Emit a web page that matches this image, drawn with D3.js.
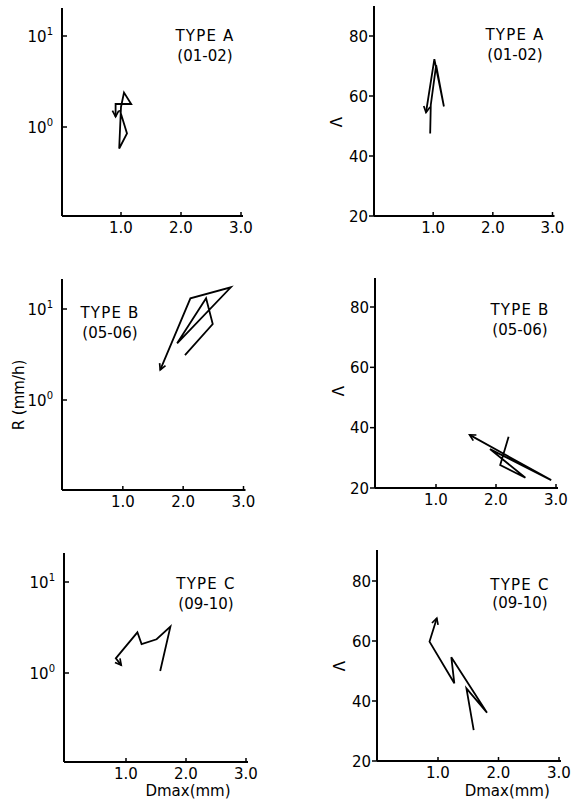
<!DOCTYPE html>
<html><head><meta charset="utf-8">
<script src="https://cdn.jsdelivr.net/npm/d3@7"></script>
<style>
body{margin:0;background:#fff}
text{font-family:"DejaVu Sans",sans-serif;fill:#000}
</style>
</head><body>
<svg id="c" width="579" height="808"></svg>
<script>
// ---- data ----
const dmaxTicks = [1.0, 2.0, 3.0];
const rTicks = [1, 10];
const lambdaTicks = [20, 40, 60, 80];
const typeLabels = ["TYPE A", "TYPE B", "TYPE C"];
const periodLabels = ["(01-02)", "(05-06)", "(09-10)"];
const rAxisTitle = "R (mm/h)";
const lambdaAxisTitle = "Λ";
const dmaxAxisTitle = "Dmax(mm)";

// Type A (01-02)
const typeA_dmaxR   = [0.98, 1.10, 0.97, 1.00, 1.05, 1.17, 0.91, 0.91];
const typeA_R       = [1.54, 0.85, 0.58, 1.66, 2.39, 1.79, 1.79, 1.30];
const typeA_dmaxL   = [0.95, 0.96, 1.05, 1.18, 1.02, 0.88];
const typeA_lambda  = [47.5, 57.0, 70.3, 56.5, 72.3, 54.5];
// Type B (05-06)
const typeB_dmaxR   = [2.03, 2.49, 2.38, 1.90, 2.79, 2.12, 1.62];
const typeB_R       = [3.12, 6.84, 13.1, 4.2, 17.3, 13.1, 2.14];
const typeB_dmaxL   = [2.21, 2.07, 2.49, 1.90, 2.92, 1.56];
const typeB_lambda  = [37.0, 27.6, 23.4, 32.9, 22.6, 37.6];
// Type C (09-10)
const typeC_dmaxR   = [1.57, 1.74, 1.51, 1.26, 1.19, 0.83, 0.92];
const typeC_R       = [1.05, 3.23, 2.35, 2.08, 2.80, 1.45, 1.22];
const typeC_dmaxL   = [1.59, 1.47, 1.81, 1.22, 1.27, 0.86, 0.98];
const typeC_lambda  = [30.3, 44.2, 36.1, 54.6, 45.9, 59.8, 67.6];

const seriesR = [[typeA_dmaxR, typeA_R], [typeB_dmaxR, typeB_R], [typeC_dmaxR, typeC_R]];
const seriesL = [[typeA_dmaxL, typeA_lambda], [typeB_dmaxL, typeB_lambda], [typeC_dmaxL, typeC_lambda]];

// ---- layout (pixels) ----
const panels = [
  {kind:"R", row:0, x0:61,    x3:241,   axisX:62,  axisY:216, top:8,   y1:127, y10:36,  tx:205, ty:41,  py:61},
  {kind:"L", row:0, x0:373.5, x3:552.5, axisX:374, axisY:216, top:6,   v20:216, v80:36, tx:515, ty:40,  py:60, lx:337, ly:122},
  {kind:"R", row:1, x0:62.5,  x3:243.5, axisX:62,  axisY:490, top:279, y1:400, y10:309, tx:110, ty:318, py:338, title:true},
  {kind:"L", row:1, x0:376,   x3:556,   axisX:375, axisY:488, top:278, v20:488, v80:307, tx:520, ty:315, py:335, lx:339, ly:391},
  {kind:"R", row:2, x0:66,    x3:246,   axisX:64,  axisY:762, top:553, y1:673, y10:582, tx:206, ty:589, py:609, xtitle:true},
  {kind:"L", row:2, x0:377.5, x3:559,   axisX:377, axisY:761, top:550, v20:761, v80:581, tx:520, ty:590, py:608, lx:340, ly:666, xtitle:true}
];

const svg = d3.select("#c");
svg.append("defs").append("marker")
  .attr("id","arr").attr("markerUnits","userSpaceOnUse")
  .attr("viewBox","-8 -5 10 10").attr("refX",0).attr("refY",0)
  .attr("markerWidth",10).attr("markerHeight",10).attr("orient","auto")
  .append("path").attr("d","M-6,-3.2L0,0L-6,3.2")
  .attr("fill","none").attr("stroke","#000").attr("stroke-width",1.7);

panels.forEach(p => {
  const g = svg.append("g");
  const x = d3.scaleLinear().domain([0,3]).range([p.x0, p.x3]);
  let y;
  if (p.kind === "R") y = d3.scaleLog().domain([1,10]).range([p.y1, p.y10]);
  else y = d3.scaleLinear().domain([20,80]).range([p.v20, p.v80]);

  // axes lines
  g.append("line").attr("x1",p.axisX).attr("x2",p.x3+2).attr("y1",p.axisY).attr("y2",p.axisY)
    .attr("stroke","#000").attr("stroke-width",2);
  g.append("line").attr("x1",p.axisX).attr("x2",p.axisX).attr("y1",p.axisY).attr("y2",p.top)
    .attr("stroke","#000").attr("stroke-width",2);

  // x ticks
  dmaxTicks.forEach(t => {
    g.append("line").attr("x1",x(t)).attr("x2",x(t)).attr("y1",p.axisY).attr("y2",p.axisY-4)
      .attr("stroke","#000").attr("stroke-width",1.5);
    g.append("text").attr("x",x(t)).attr("y",p.axisY+17).attr("text-anchor","middle")
      .attr("font-size",15).text(t.toFixed(1));
  });

  if (p.kind === "R") {
    rTicks.forEach(t => {
      g.append("line").attr("x1",p.axisX).attr("x2",p.axisX+5).attr("y1",y(t)).attr("y2",y(t))
        .attr("stroke","#000").attr("stroke-width",1.5);
      const tx = g.append("text").attr("x",p.axisX-9).attr("y",y(t)+6).attr("text-anchor","end")
        .attr("font-size",15);
      tx.append("tspan").text("10");
      tx.append("tspan").attr("font-size",10).attr("dy",-7).text(String(Math.round(Math.log10(t))));
    });
  } else {
    lambdaTicks.forEach(t => {
      g.append("line").attr("x1",p.axisX-5).attr("x2",p.axisX).attr("y1",y(t)).attr("y2",y(t))
        .attr("stroke","#000").attr("stroke-width",1.5);
      g.append("text").attr("x",p.axisX-6).attr("y",y(t)+5.5).attr("text-anchor","end")
        .attr("font-size",15).text(t);
    });
    g.append("text").attr("transform",`translate(${p.lx+5},${p.ly}) rotate(-90)`)
      .attr("text-anchor","middle").attr("font-size",15).text(lambdaAxisTitle);
  }

  // labels
  g.append("text").attr("x",p.tx).attr("y",p.ty).attr("text-anchor","middle")
    .attr("font-size",15).attr("letter-spacing",1.2).text(typeLabels[p.row]);
  g.append("text").attr("x",p.tx).attr("y",p.py).attr("text-anchor","middle")
    .attr("font-size",15).text(periodLabels[p.row]);

  if (p.title) {
    g.append("text").attr("transform",`translate(24,395) rotate(-90)`)
      .attr("text-anchor","middle").attr("font-size",15).text(rAxisTitle);
  }
  if (p.xtitle) {
    g.append("text").attr("x",(p.x0+p.x3)/2+(p.kind==="R"?32:39)).attr("y",796)
      .attr("text-anchor","middle").attr("font-size",15).text(dmaxAxisTitle);
  }

  // data path
  const s = p.kind === "R" ? seriesR[p.row] : seriesL[p.row];
  const pts = s[0].map((d,i) => [x(d), y(s[1][i])]);
  g.append("path").attr("d", d3.line()(pts))
    .attr("fill","none").attr("stroke","#000").attr("stroke-width",1.8)
    .attr("stroke-linejoin","miter").attr("marker-end","url(#arr)");
});
</script>
</body></html>
